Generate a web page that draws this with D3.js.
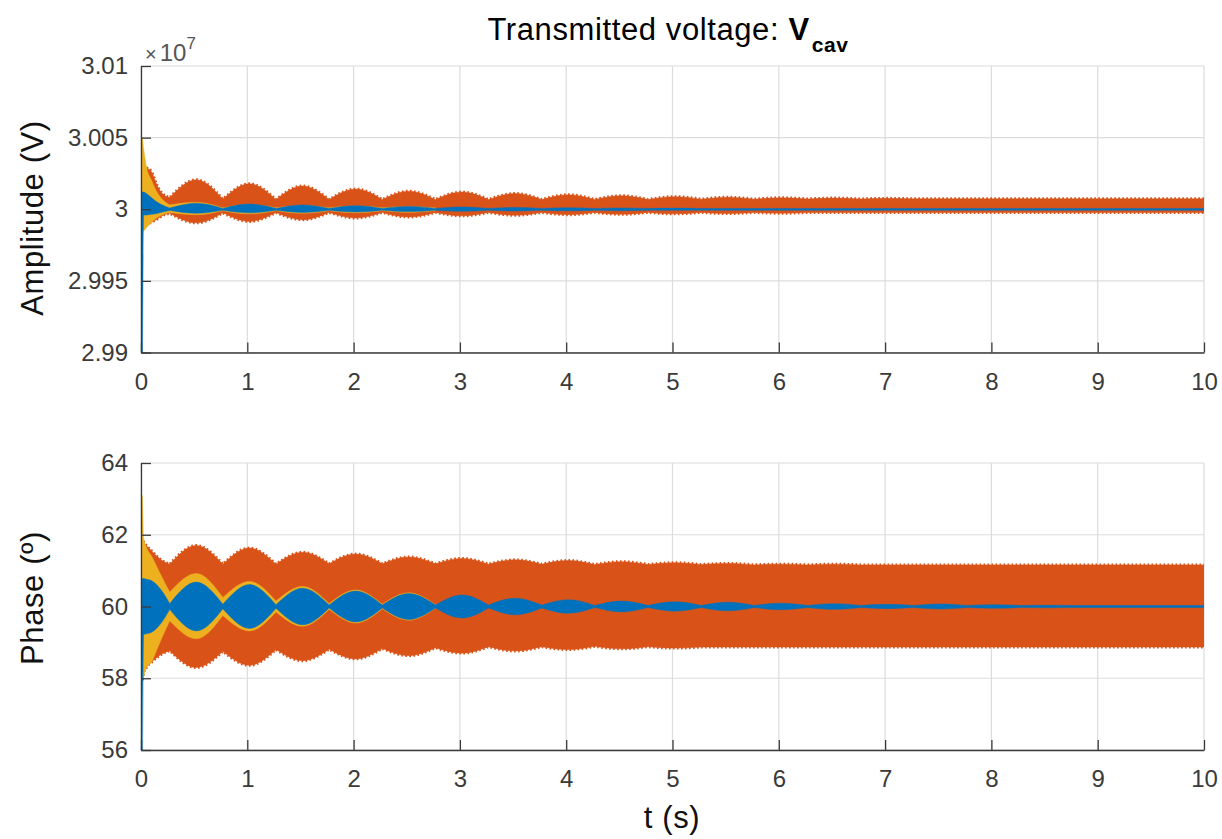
<!DOCTYPE html>
<meta charset="utf-8" />
<html>

<head>
<title>Transmitted voltage: Vcav</title>
<script src="https://cdn.jsdelivr.net/npm/d3@7"></script>
<style>
body { margin: 0; background: #fff; }
svg { font-family: "Liberation Sans", Arial, Helvetica, sans-serif; }
.tick text { font-size: 24px; fill: #3a3a3a; }
.axis path, .axis line { stroke: #3a3a3a; stroke-width: 1.3; }
.grid line { stroke: #dcdcdc; stroke-width: 1.2; }
.lbl { font-size: 31px; fill: #111; letter-spacing: 0.6px; }
</style>
</head>

<body>
<div id="viz"></div>
<script>

// time samples (s). from 0.27 s on, every other sample is a beat node
var t = [0, 0.01, 0.025, 0.05, 0.1, 0.15, 0.2,
  0.27, 0.52, 0.77, 1.02, 1.27, 1.52, 1.77, 2.02, 2.27, 2.52, 2.77, 3.02, 3.27, 3.52,
  3.77, 4.02, 4.27, 4.52, 4.77, 5.02, 5.27, 5.52, 5.77, 6.02, 6.27, 6.52, 6.77, 7.02,
  7.27, 7.52, 7.77, 8.02, 8.27, 8.52, 8.77, 9.02, 9.27, 9.52, 9.77, 10];

var tTicks = [0, 1, 2, 3, 4, 5, 6, 7, 8, 9, 10];
var ampTicks = [2.99, 2.995, 3, 3.005, 3.01];   // x 10^7 V
var phaseTicks = [56, 58, 60, 62, 64];

// amplitude envelopes (x 10^7 V), upper / lower edge of each trace
var ampOrangeHi = [3.0025, 3.0030, 3.0030, 3.0029, 3.0026, 3.0017, 3.0011,
  3.00082, 3.00206, 3.00070, 3.00178, 3.00068, 3.00162, 3.00068, 3.00141, 3.00068, 3.00126,
  3.00068, 3.00120, 3.00068, 3.00110, 3.00068, 3.00101, 3.00068, 3.00094, 3.00068, 3.00088,
  3.00070, 3.00084, 3.00070, 3.00080, 3.00072, 3.00078, 3.00072, 3.00076, 3.00073, 3.00073,
  3.00073, 3.00073, 3.00073, 3.00073, 3.00073, 3.00073, 3.00073, 3.00073, 3.00073, 3.00073];
var ampOrangeLo = [2.9988, 2.9986, 2.9987, 2.9989, 2.9991, 2.9993, 2.99955,
  2.99972, 2.99905, 2.99975, 2.99915, 2.99977, 2.99927, 2.99978, 2.99939, 2.99978, 2.99946,
  2.99978, 2.99954, 2.99978, 2.99958, 2.99978, 2.99962, 2.99978, 2.99965, 2.99978, 2.99968,
  2.99978, 2.99970, 2.99978, 2.99972, 2.99977, 2.99977, 2.99977, 2.99977, 2.99977, 2.99977,
  2.99977, 2.99977, 2.99977, 2.99977, 2.99977, 2.99977, 2.99977, 2.99977, 2.99977, 2.99977];
var ampYellowHi = [3.0035, 3.0050, 3.0042, 3.0030, 3.0020, 3.0012, 3.0007,
  3.0003, 3.00048, 3.0001, 3.00032, 3.0001, 3.00026, 3.0001, 3.00022, 3.0001, 3.00018, 3.0001];
var ampYellowLo = [2.9992, 2.9985, 2.9985, 2.9987, 2.9991, 2.9994, 2.99962,
  2.99978, 2.99962, 2.9999, 2.99968, 2.9999, 2.99972, 2.9999, 2.99976, 2.9999, 2.99979, 2.9999];
var ampBlueHi = [3.0012, 3.0012, 3.0012, 3.0011, 3.0008, 3.0005, 3.0003,
  3.00008, 3.00042, 3.00006, 3.00036, 3.00006, 3.00030, 3.00006, 3.00025, 3.00006, 3.00020,
  3.00006, 3.00016, 3.00006, 3.00013, 3.00006, 3.00011, 3.00006, 3.00009, 3.00006, 3.00008,
  3.00006, 3.00006, 3.00006, 3.00006, 3.00006, 3.00006, 3.00006, 3.00006, 3.00006, 3.00006,
  3.00006, 3.00006, 3.00006, 3.00006, 3.00006, 3.00006, 3.00006, 3.00006, 3.00006, 3.00006];
var ampBlueLo = [2.9996, 2.9880, 2.9996, 2.9996, 2.99965, 2.9997, 2.9998,
  2.99992, 2.99972, 2.99993, 2.99975, 2.99993, 2.99978, 2.99993, 2.99981, 2.99993, 2.99984,
  2.99993, 2.99986, 2.99993, 2.99988, 2.99993, 2.99989, 2.99993, 2.99990, 2.99993, 2.99993,
  2.99993, 2.99993, 2.99993, 2.99993, 2.99993, 2.99993, 2.99993, 2.99993, 2.99993, 2.99993,
  2.99993, 2.99993, 2.99993, 2.99993, 2.99993, 2.99993, 2.99993, 2.99993, 2.99993, 2.99993];

// phase envelopes (degrees)
var phOrangeHi = [61.9, 61.9, 61.8, 61.7, 61.55, 61.4, 61.28,
  61.18, 61.70, 61.18, 61.63, 61.18, 61.51, 61.19, 61.46, 61.19, 61.38,
  61.19, 61.34, 61.18, 61.30, 61.18, 61.28, 61.17, 61.25, 61.17, 61.22,
  61.17, 61.20, 61.16, 61.18, 61.16, 61.18, 61.16, 61.16, 61.16, 61.16,
  61.16, 61.16, 61.16, 61.16, 61.16, 61.16, 61.16, 61.16, 61.16, 61.16];
var phOrangeLo = [58.0, 57.95, 58.15, 58.3, 58.45, 58.58, 58.68,
  58.77, 58.30, 58.75, 58.36, 58.80, 58.49, 58.81, 58.54, 58.83, 58.63,
  58.85, 58.70, 58.88, 58.76, 58.88, 58.80, 58.89, 58.82, 58.88, 58.84,
  58.87, 58.87, 58.87, 58.87, 58.87, 58.87, 58.87, 58.87, 58.87, 58.87,
  58.87, 58.87, 58.87, 58.87, 58.87, 58.87, 58.87, 58.87, 58.87, 58.87];
var phYellowHi = [61.0, 63.1, 61.9, 61.65, 61.4, 61.1, 60.8,
  60.4, 60.92, 60.25, 60.70, 60.15, 60.56, 60.08, 60.46, 60.06, 60.38, 60.05];
var phYellowLo = [59.0, 57.9, 58.05, 58.3, 58.45, 58.8, 59.15,
  59.6, 59.10, 59.75, 59.32, 59.85, 59.45, 59.92, 59.54, 59.94, 59.62, 59.95];
var phBlueHi = [60.78, 60.78, 60.78, 60.76, 60.72, 60.6, 60.42,
  60.08, 60.68, 60.06, 60.61, 60.05, 60.51, 60.04, 60.43, 60.04, 60.36,
  60.04, 60.32, 60.04, 60.23, 60.04, 60.19, 60.03, 60.15, 60.03, 60.13,
  60.03, 60.12, 60.03, 60.09, 60.03, 60.08, 60.03, 60.06, 60.03, 60.07,
  60.03, 60.05, 60.03, 60.035, 60.03, 60.03, 60.03, 60.03, 60.03, 60.03];
var phBlueLo = [59.22, 55.0, 59.22, 59.24, 59.28, 59.4, 59.58,
  59.92, 59.32, 59.94, 59.39, 59.95, 59.49, 59.96, 59.57, 59.96, 59.64,
  59.96, 59.68, 59.96, 59.77, 59.96, 59.81, 59.97, 59.85, 59.97, 59.87,
  59.97, 59.88, 59.97, 59.91, 59.97, 59.92, 59.97, 59.94, 59.97, 59.93,
  59.97, 59.95, 59.97, 59.965, 59.97, 59.97, 59.97, 59.97, 59.97, 59.97];

var colors = {blue: "#0072bd", orange: "#d95319", yellow: "#edb120"};

var width = 1222, height = 839;
var left = 141, right = 1204;

var svg = d3.select("#viz").append("svg")
    .attr("width", width)
    .attr("height", height);

var x = d3.scaleLinear().domain([0, 10]).range([left, right]);

var panels = [
  {id: "amp", top: 66, bottom: 352.5, domain: [2.99, 3.01], ticks: ampTicks,
   label: "Amplitude (V)", labelY: 218,
   fmt: function(d) { return String(+d.toFixed(3)); },
   bands: [[ampOrangeHi, ampOrangeLo, colors.orange, true],
           [ampYellowHi, ampYellowLo, colors.yellow, false],
           [ampBlueHi, ampBlueLo, colors.blue, false]]},
  {id: "phase", top: 463, bottom: 750, domain: [56, 64], ticks: phaseTicks,
   label: "Phase (º)", labelY: 598,
   fmt: function(d) { return String(d); },
   bands: [[phOrangeHi, phOrangeLo, colors.orange, true],
           [phYellowHi, phYellowLo, colors.yellow, false],
           [phBlueHi, phBlueLo, colors.blue, false]]}
];

// split the samples at beat nodes so each lobe keeps pointed ends
function segments(hi, lo) {
  var segs = [], cur = [];
  for (var i = 0; i < hi.length; i++) {
    cur.push({t: t[i], hi: hi[i], lo: lo[i]});
    if (i >= 7 && (i - 7) % 2 == 0 && i < hi.length - 1) {
      segs.push(cur);
      cur = [{t: t[i], hi: hi[i], lo: lo[i]}];
    }
  }
  if (cur.length > 1) segs.push(cur);
  return segs;
}

// one closed outline: upper edge left to right, lower edge back
function bandPath(segs, y) {
  var up = d3.line().curve(d3.curveMonotoneX)
    .x(function(d) { return x(d.t); }).y(function(d) { return y(d.hi); });
  var dn = d3.line().curve(d3.curveMonotoneX)
    .x(function(d) { return x(d.t); }).y(function(d) { return y(d.lo); });
  var s = "";
  segs.forEach(function(seg, k) {
    var d = up(seg);
    s += k ? d.replace(/^M/, "L") : d;
  });
  segs.slice().reverse().forEach(function(seg) {
    s += dn(seg.slice().reverse()).replace(/^M/, "L");
  });
  return s + "Z";
}

panels.forEach(function(p) {
  var y = d3.scaleLinear().domain(p.domain).range([p.bottom, p.top]);
  var g = svg.append("g");

  // grid
  var grid = g.append("g").attr("class", "grid");
  grid.selectAll("line.v").data(tTicks).enter().append("line")
    .attr("x1", function(d) { return x(d); }).attr("x2", function(d) { return x(d); })
    .attr("y1", p.top).attr("y2", p.bottom);
  grid.selectAll("line.h").data(p.ticks).enter().append("line")
    .attr("x1", left).attr("x2", right)
    .attr("y1", function(d) { return y(d); }).attr("y2", function(d) { return y(d); });

  svg.append("clipPath").attr("id", "clip-" + p.id)
    .append("rect")
    .attr("x", left).attr("y", p.top)
    .attr("width", right - left).attr("height", p.bottom - p.top);

  var data = g.append("g").attr("clip-path", "url(#clip-" + p.id + ")");
  p.bands.forEach(function(b) {
    var d = bandPath(segments(b[0], b[1]), y);
    data.append("path")
      .attr("d", d)
      .attr("fill", b[2])
      .attr("stroke", b[2])
      .attr("stroke-width", 0.5);
    if (b[3]) {
      // ragged edge from the fast ripple
      data.append("path")
        .attr("d", d)
        .attr("fill", "none")
        .attr("stroke", b[2])
        .attr("stroke-width", 3)
        .attr("stroke-dasharray", "1.6,2.4");
    }
  });

  // axes, ticks pointing inward
  g.append("g").attr("class", "axis")
    .attr("transform", "translate(" + left + ",0)")
    .call(d3.axisLeft(y).tickValues(p.ticks).tickFormat(p.fmt)
      .tickSizeInner(-10).tickSizeOuter(0).tickPadding(13));
  g.append("g").attr("class", "axis")
    .attr("transform", "translate(0," + p.bottom + ")")
    .call(d3.axisBottom(x).tickValues(tTicks).tickFormat(d3.format("d"))
      .tickSizeInner(-10).tickSizeOuter(0).tickPadding(20));

  g.append("text").attr("class", "lbl")
    .attr("transform", "translate(43," + p.labelY + ") rotate(-90)")
    .attr("text-anchor", "middle")
    .text(p.label);
});

svg.selectAll(".axis .tick text").attr("font-family", null);

// exponent of the amplitude axis
var ex = svg.append("text").attr("x", 145).attr("y", 61).attr("fill", "#555");
ex.append("tspan").attr("font-size", "20px").text("×");
ex.append("tspan").attr("font-size", "24px").attr("dx", 3).text("10");
ex.append("tspan").attr("font-size", "17px").attr("dy", -12).text("7");

svg.append("text").attr("class", "lbl")
  .attr("x", 672).attr("y", 828)
  .attr("text-anchor", "middle")
  .text("t (s)");

var title = svg.append("text")
  .attr("x", 668).attr("y", 40)
  .attr("text-anchor", "middle")
  .attr("fill", "#000")
  .style("font-size", "31px")
  .style("letter-spacing", "0.6px");
title.append("tspan").text("Transmitted voltage: ");
title.append("tspan").attr("font-weight", "bold").text("V");
title.append("tspan").attr("font-weight", "bold").attr("font-size", "21px")
  .attr("dy", 12).attr("dx", 2).text("cav");

</script>
</body>
</html>
